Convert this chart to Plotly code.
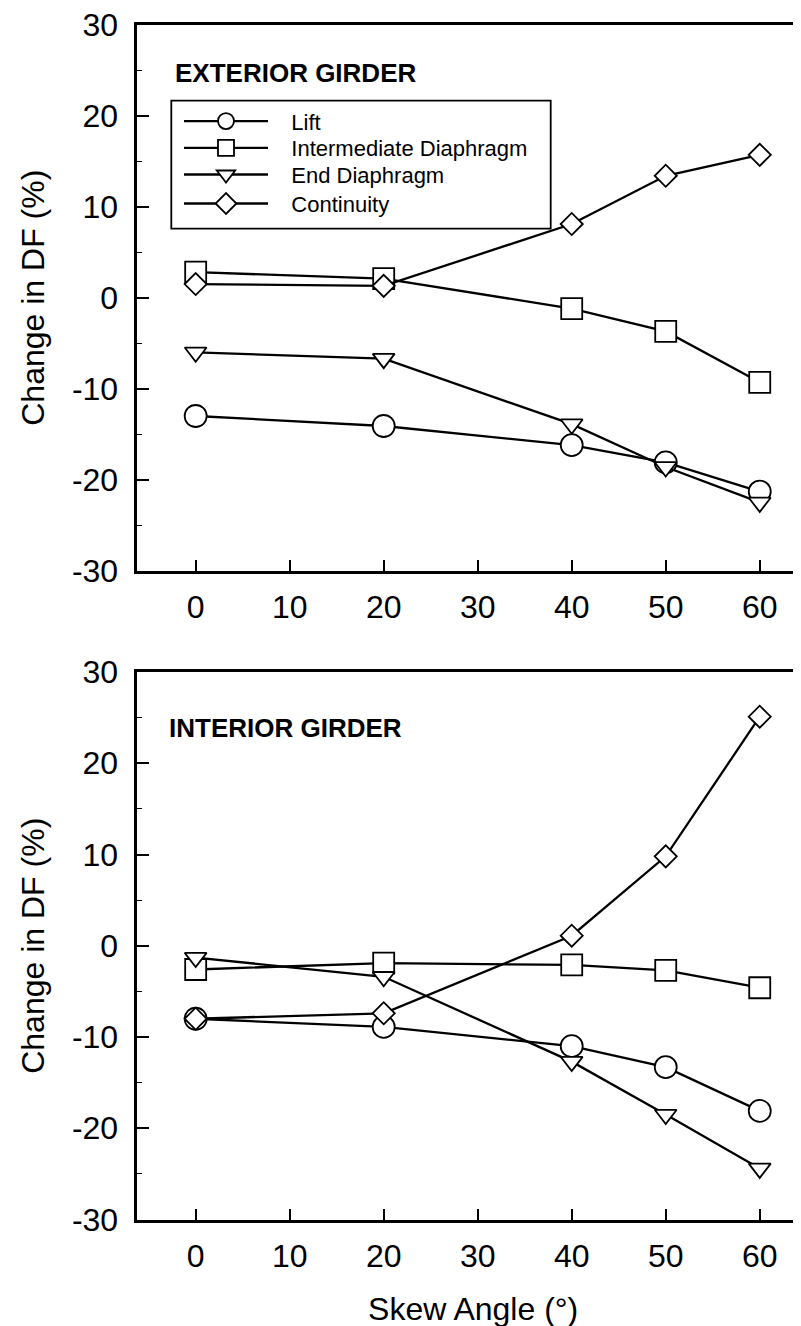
import plotly.graph_objects as go

# ---- data ----
skew = [0, 20, 40, 50, 60]
series_names = ["Lift", "Intermediate Diaphragm", "End Diaphragm", "Continuity"]

ext_lift = [-13.0, -14.1, -16.2, -18.1, -21.3]
ext_inter = [2.8, 2.1, -1.2, -3.7, -9.3]
ext_end = [-6.0, -6.7, -13.9, -18.6, -22.5]
ext_cont = [1.5, 1.3, 8.1, 13.4, 15.7]

int_lift = [-8.0, -8.9, -11.0, -13.3, -18.1]
int_inter = [-2.6, -1.9, -2.1, -2.7, -4.6]
int_end = [-1.3, -3.4, -12.7, -18.5, -24.4]
int_cont = [-8.0, -7.4, 1.1, 9.8, 25.1]

x_ticks = [0, 10, 20, 30, 40, 50, 60]
y_ticks = [-30, -20, -10, 0, 10, 20, 30]

# ---- style ----
FONT = "Liberation Sans, Arial, sans-serif"
symbols = ["circle", "square", "triangle-down", "diamond"]
sizes = [22, 21, 19, 17]
legend_ids = ["legend", "legend2", "legend3", "legend4"]
legend_rows_px = [113.3, 140.0, 166.7, 195.7]

W, H = 801, 1326

fig = go.Figure()

ext = [ext_lift, ext_inter, ext_end, ext_cont]
intr = [int_lift, int_inter, int_end, int_cont]
PAD = "\u00a0\u00a0\u00a0"

for i, name in enumerate(series_names):
    fig.add_trace(go.Scatter(
        x=skew, y=ext[i], name=PAD + name, mode="lines+markers",
        xaxis="x", yaxis="y", legend=legend_ids[i], showlegend=True,
        line=dict(color="black", width=2.3),
        marker=dict(symbol=symbols[i], size=sizes[i], color="white",
                    line=dict(color="black", width=1.8)),
        cliponaxis=False,
    ))
for i, name in enumerate(series_names):
    fig.add_trace(go.Scatter(
        x=skew, y=intr[i], name=PAD + name, mode="lines+markers",
        xaxis="x2", yaxis="y2", showlegend=False,
        line=dict(color="black", width=2.3),
        marker=dict(symbol=symbols[i], size=sizes[i], color="white",
                    line=dict(color="black", width=1.8)),
        cliponaxis=False,
    ))

xr = [-6.21, 65.24]
xdom = [129.3 / W, 1.0]
y1dom = [1 - 562.7 / H, 1 - 16.7 / H]
y2dom = [1 - 1211.5 / H, 1 - 664 / H]

def xaxis(anchor, title=None):
    d = dict(
        domain=xdom, range=xr, anchor=anchor,
        tickmode="array", tickvals=x_ticks, ticktext=[str(v) for v in x_ticks],
        ticks="inside", ticklen=11, tickwidth=1.5, tickcolor="black",
        showline=True, linecolor="black", linewidth=2.5, mirror=True,
        showgrid=False, zeroline=False,
        tickfont=dict(family=FONT, size=32, color="black"),
        ticklabelstandoff=6, ticklabeloverflow="allow",
    )
    if title:
        d["title"] = dict(text=title, font=dict(family=FONT, size=32, color="black"),
                          standoff=25)
    return d

def yaxis(dom, anchor):
    return dict(
        domain=dom, range=[-30, 30], anchor=anchor,
        tickmode="array", tickvals=y_ticks, ticktext=[str(v) for v in y_ticks],
        ticks="inside", ticklen=12, tickwidth=1.5, tickcolor="black",
        minor=dict(dtick=5, tick0=0, ticks="inside", ticklen=5, tickwidth=1.2,
                   tickcolor="black", showgrid=False),
        showline=True, linecolor="black", linewidth=2.5, mirror=False,
        showgrid=False, zeroline=False,
        tickfont=dict(family=FONT, size=32, color="black"),
        ticklabelstandoff=10, ticklabeloverflow="allow",
        title=dict(text="Change in DF (%)", font=dict(family=FONT, size=32, color="black"),
                   standoff=18),
    )

# legend frame (style element)
box = dict(x0=163.3 / W, x1=542.7 / W, y0=1 - 220.7 / H, y1=1 - 92.7 / H)

legends = {}
for lid, row in zip(legend_ids, legend_rows_px):
    legends[lid] = dict(
        x=171.0 / W, y=1 - row / H, xanchor="left", yanchor="middle",
        borderwidth=0, bgcolor="rgba(0,0,0,0)",
        font=dict(family=FONT, size=22, color="black"),
        itemwidth=84, tracegroupgap=0,
    )

fig.update_layout(
    width=W, height=H,
    margin=dict(l=0, r=0, t=0, b=0, autoexpand=False),
    paper_bgcolor="white", plot_bgcolor="white",
    font=dict(family=FONT, color="black"),
    xaxis=xaxis("y"),
    yaxis=yaxis(y1dom, "x"),
    xaxis2=xaxis("y2", "Skew Angle (°)"),
    yaxis2=yaxis(y2dom, "x2"),
    showlegend=True,
    shapes=[dict(type="rect", xref="paper", yref="paper", layer="below",
                 line=dict(color="black", width=1.8), fillcolor="white", **box)],
    annotations=[
        dict(text="EXTERIOR GIRDER", x=165.0 / W, y=1 - 65.3 / H, xref="paper", yref="paper",
             xanchor="left", yanchor="middle", showarrow=False,
             font=dict(family=FONT, size=26, color="black", weight="bold")),
        dict(text="INTERIOR GIRDER", x=158.6 / W, y=1 - 720.3 / H, xref="paper", yref="paper",
             xanchor="left", yanchor="middle", showarrow=False,
             font=dict(family=FONT, size=26, color="black", weight="bold")),
    ],
    **legends,
)

fig.write_html("out.html")
